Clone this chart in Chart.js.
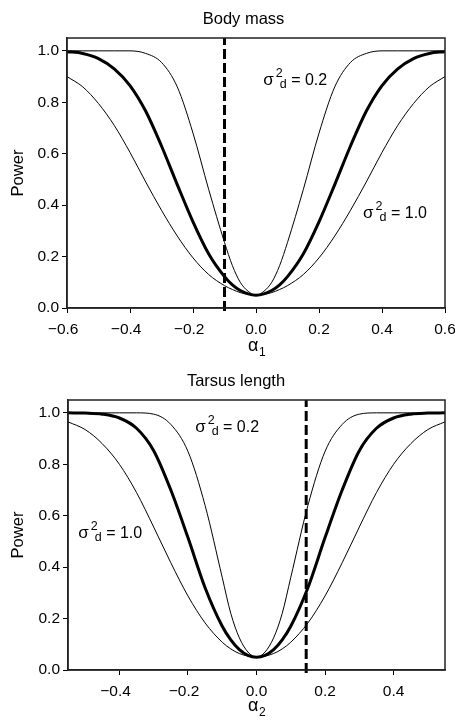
<!DOCTYPE html>
<html>
<head>
<meta charset="utf-8">
<script src="https://cdn.jsdelivr.net/npm/chart.js@4.4.0/dist/chart.umd.min.js"></script>
<style>
  html, body { margin: 0; padding: 0; background: #fff; }
  canvas { display: block; }
</style>
</head>
<body>
<canvas id="top" width="455" height="360"></canvas>
<canvas id="bottom" width="455" height="360"></canvas>
<script>
// power curves (sigma2_d = 0.2 thin, mid thick, 1.0 thin)
const topX = [-0.6,-0.55,-0.5,-0.45,-0.4,-0.35,-0.3,-0.25,-0.2,-0.15,-0.1,-0.075,-0.05,-0.025,0,0.025,0.05,0.075,0.1,0.15,0.2,0.25,0.3,0.35,0.4,0.45,0.5,0.55,0.6];
const topNarrow = [1.0,1.0,1.0,1.0,1.0,0.99,0.955,0.86,0.68,0.46,0.255,0.165,0.10,0.065,0.05,0.065,0.10,0.165,0.255,0.46,0.68,0.86,0.955,0.99,1.0,1.0,1.0,1.0,1.0];
const topMid = [0.997,0.99,0.97,0.93,0.865,0.765,0.63,0.48,0.335,0.21,0.122,0.09,0.068,0.055,0.05,0.055,0.068,0.09,0.122,0.21,0.335,0.48,0.63,0.765,0.865,0.93,0.97,0.99,0.997];
const topWide = [0.90,0.86,0.795,0.71,0.605,0.49,0.38,0.28,0.195,0.13,0.087,0.072,0.06,0.053,0.05,0.053,0.06,0.072,0.087,0.13,0.195,0.28,0.38,0.49,0.605,0.71,0.795,0.86,0.90];
const topDash = -0.1;

const bottomX = [-0.55,-0.5,-0.45,-0.4,-0.35,-0.3,-0.25,-0.2,-0.15,-0.1,-0.075,-0.05,-0.025,0,0.025,0.05,0.075,0.1,0.15,0.2,0.25,0.3,0.35,0.4,0.45,0.5,0.55];
const bottomNarrow = [1.0,1.0,1.0,1.0,1.0,0.995,0.955,0.85,0.64,0.36,0.22,0.125,0.07,0.05,0.07,0.125,0.22,0.36,0.64,0.85,0.955,0.995,1.0,1.0,1.0,1.0,1.0];
const bottomMid = [1.0,0.999,0.995,0.98,0.94,0.853,0.70,0.515,0.32,0.17,0.117,0.079,0.057,0.05,0.057,0.079,0.117,0.17,0.32,0.515,0.70,0.853,0.94,0.98,0.995,0.999,1.0];
const bottomWide = [0.965,0.935,0.88,0.80,0.69,0.556,0.417,0.288,0.183,0.108,0.082,0.064,0.054,0.05,0.054,0.064,0.082,0.108,0.183,0.288,0.417,0.556,0.69,0.80,0.88,0.935,0.965];
const bottomDash = 0.145;

const yTicks = [0, 0.2, 0.4, 0.6, 0.8, 1.0];
const topXTicks = [-0.6, -0.4, -0.2, 0, 0.2, 0.4, 0.6];
const bottomXTicks = [-0.4, -0.2, 0, 0.2, 0.4];

// sigma labels, anchored in data units
const labelText = ['0.2', '1.0'];
const topLabelX = [0.023, 0.34];
const topLabelY = [0.868, 0.35];
const bottomLabelX = [-0.179, -0.52];
const bottomLabelY = [0.926, 0.515];

const FONT = '"Liberation Sans", Arial, sans-serif';
Chart.defaults.font.family = FONT;
Chart.defaults.color = '#000';

const fmt = v => (v < 0 ? '\u2212' : '') + Math.abs(v).toFixed(1);
// keep the digits centred on the tick, the minus hangs to the left
const fmtX = v => fmt(v) + (v < 0 ? '\u2002' : '');
const pts = (xs, ys) => xs.map((x, i) => ({x: x, y: ys[i]}));

function sigmaLabel(ctx, x0, y0, val) {
  ctx.textAlign = 'left';
  ctx.textBaseline = 'alphabetic';
  ctx.font = '17px ' + FONT;
  ctx.fillText('\u03c3', x0, y0);
  const w = ctx.measureText('\u03c3').width;
  ctx.font = '12.5px ' + FONT;
  ctx.fillText('2', x0 + w + 2, y0 - 8);
  ctx.fillText('d', x0 + w + 6, y0 + 3);
  const end = x0 + w + 6 + ctx.measureText('d').width;
  ctx.font = '16px ' + FONT;
  ctx.fillText(' = ' + val, end, y0);
}

const annot = {
  id: 'annot',
  afterDraw(chart, args, o) {
    const {ctx, chartArea: a, scales: {x, y}} = chart;
    ctx.save();
    ctx.strokeStyle = '#222';
    ctx.lineWidth = 1.5;
    ctx.strokeRect(a.left, a.top, a.right - a.left, a.bottom - a.top);
    ctx.fillStyle = '#000';
    ctx.font = '16.5px ' + FONT;
    ctx.textAlign = 'center';
    ctx.textBaseline = 'alphabetic';
    ctx.fillText(o.title, o.titleX, o.titleY);
    ctx.save();
    ctx.translate(23, (a.top + a.bottom) / 2);
    ctx.rotate(-Math.PI / 2);
    ctx.fillText('Power', 0, 0);
    ctx.restore();
    ctx.textAlign = 'left';
    ctx.font = '18px ' + FONT;
    ctx.fillText('\u03b1', o.alphaX, o.alphaY);
    const aw = ctx.measureText('\u03b1').width;
    ctx.font = '12px ' + FONT;
    ctx.fillText(o.sub, o.alphaX + aw + 0.5, o.alphaY + 5);
    o.lx.forEach((lx, i) => {
      sigmaLabel(ctx, x.getPixelForValue(lx), y.getPixelForValue(o.ly[i]), labelText[i]);
    });
    ctx.restore();
  }
};

function makeChart(id, xs, narrow, mid, wide, dashX, xMin, xMax, xTicks, pad, plot) {
  const curve = (ys, w) => ({
    data: pts(xs, ys), borderColor: '#000', borderWidth: w,
    pointRadius: 0, cubicInterpolationMode: 'monotone', fill: false, order: 1
  });
  return new Chart(document.getElementById(id), {
    type: 'line',
    data: {
      datasets: [
        {data: [{x: dashX, y: -0.012}, {x: dashX, y: 1.05}], borderColor: '#000', borderWidth: 3,
         borderDash: [10, 4], pointRadius: 0, clip: false, order: 0},
        curve(narrow, 1),
        curve(mid, 3),
        curve(wide, 1)
      ]
    },
    options: {
      responsive: false,
      animation: false,
      devicePixelRatio: 1,
      layout: {padding: {left: 0, right: 10, top: pad.top, bottom: 0}},
      plugins: {legend: {display: false}, tooltip: {enabled: false}, annot: plot},
      scales: {
        x: {
          type: 'linear', min: xMin, max: xMax,
          afterBuildTicks: s => { s.ticks = xTicks.map(v => ({value: v})); },
          afterFit: s => { s.height = pad.xh; s.paddingLeft = 0; s.paddingRight = 0; },
          ticks: {callback: fmtX, font: {size: 15.5}, padding: 7, maxRotation: 0, autoSkip: false, color: '#000'},
          grid: {drawOnChartArea: false, drawTicks: true, tickLength: 5, color: '#000'},
          border: {display: true, color: '#222', width: 1.5}
        },
        y: {
          type: 'linear', min: 0, max: 1.05,
          afterBuildTicks: s => { s.ticks = yTicks.map(v => ({value: v})); },
          afterFit: s => { s.width = pad.left; s.paddingTop = 0; s.paddingBottom = 0; },
          ticks: {callback: fmt, font: {size: 15.5}, padding: 3, color: '#000'},
          grid: {drawOnChartArea: false, drawTicks: true, tickLength: 5, color: '#000'},
          border: {display: true, color: '#222', width: 1.5}
        }
      }
    },
    plugins: [annot]
  });
}

makeChart('top', topX, topNarrow, topMid, topWide, topDash, -0.6, 0.6, topXTicks,
  {top: 38, xh: 52, left: 67},
  {title: 'Body mass', titleX: 243.5, titleY: 24, alphaX: 248, alphaY: 351, sub: '1',
   lx: topLabelX, ly: topLabelY});

makeChart('bottom', bottomX, bottomNarrow, bottomMid, bottomWide, bottomDash, -0.55, 0.55, bottomXTicks,
  {top: 40, xh: 50, left: 68},
  {title: 'Tarsus length', titleX: 236, titleY: 26, alphaX: 248, alphaY: 351, sub: '2',
   lx: bottomLabelX, ly: bottomLabelY});
</script>
</body>
</html>
